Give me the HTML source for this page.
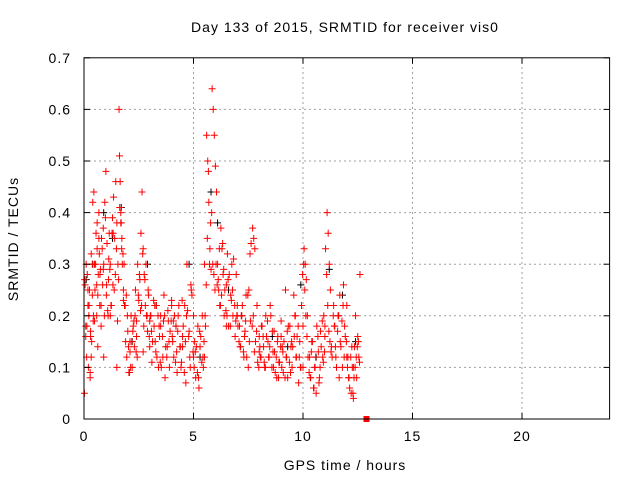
<!DOCTYPE html>
<html><head><meta charset="utf-8"><style>
body{margin:0;background:#fff}
svg text{font-family:"Liberation Sans",sans-serif;font-size:14px;fill:#000;letter-spacing:1px}
</style></head><body>
<svg id="c" width="640" height="480">
<text x="345" y="32" text-anchor="middle">Day 133 of 2015, SRMTID for receiver vis0</text>
<text x="345" y="470" text-anchor="middle">GPS time / hours</text>
<text transform="translate(18,239) rotate(-90)" text-anchor="middle">SRMTID / TECUs</text>
<g id="grid"></g><g id="marks"></g><g id="axes"></g>
</svg>
<script>
const xTicks=[0,5,10,15,20];
const yTicks=[0,0.1,0.2,0.3,0.4,0.5,0.6,0.7];
const redT=[0.02,0.05,0.08,0.1,0.12,0.15,0.18,0.2,0.22,0.25,0.28,0.3,0.33,0.35,0.38,0.4,0.42,0.45,0.48,0.5,0.55,0.58,0.6,0.63,0.65,0.68,0.7,0.72,0.75,0.78,0.8,0.85,0.88,0.9,0.95,1.0,1.02,1.05,1.1,1.12,1.15,1.2,1.25,1.3,1.32,1.35,1.4,1.45,1.5,1.55,1.6,1.62,1.65,1.68,1.7,1.72,1.75,1.8,1.85,1.9,1.95,2.0,2.05,2.1,2.15,2.2,2.25,2.3,2.35,2.4,2.45,2.5,2.55,2.6,2.65,2.7,2.75,2.8,2.85,2.9,2.95,3.0,3.05,3.1,3.2,3.25,3.3,3.4,3.45,3.5,3.6,3.65,3.7,3.8,3.85,3.9,4.0,4.05,4.1,4.2,4.25,4.3,4.4,4.45,4.5,4.6,4.65,4.7,4.8,4.85,4.9,5.0,5.05,5.1,5.2,5.25,5.3,5.4,5.45,5.5,5.55,5.6,5.65,5.7,5.75,5.8,5.85,5.9,5.95,6.0,6.05,6.1,6.15,6.2,6.25,6.3,6.35,6.4,6.5,6.55,6.6,6.7,6.75,6.8,6.9,6.95,7.0,7.1,7.15,7.2,7.3,7.35,7.4,7.5,7.55,7.6,7.7,7.75,7.8,7.9,8.0,8.05,8.1,8.2,8.25,8.3,8.4,8.45,8.5,8.6,8.65,8.7,8.8,8.85,8.9,9.0,9.05,9.1,9.2,9.25,9.3,9.4,9.45,9.5,9.6,9.65,9.7,9.8,9.85,9.9,10.0,10.05,10.1,10.15,10.2,10.3,10.35,10.4,10.5,10.55,10.6,10.7,10.75,10.8,10.9,10.95,11.0,11.1,11.15,11.2,11.25,11.3,11.4,11.45,11.5,11.6,11.65,11.7,11.8,11.85,11.9,12.0,12.05,12.1,12.2,12.25,12.3,12.35,12.4,12.45,12.5,12.55,12.6,0.3,0.6,0.9,1.2,1.5,1.8,2.1,2.4,2.7,3.0,3.5,4.0,4.5,5.0,5.5,6.5,7.0,8.0,9.0,10.0,11.0,12.0,12.3];
const redV=[0.05,0.26,0.18,0.3,0.12,0.28,0.22,0.1,0.2,0.25,0.08,0.17,0.32,0.15,0.24,0.42,0.19,0.44,0.3,0.25,0.36,0.2,0.38,0.14,0.28,0.4,0.32,0.22,0.29,0.18,0.35,0.26,0.37,0.3,0.42,0.48,0.24,0.34,0.2,0.27,0.36,0.3,0.22,0.39,0.26,0.43,0.35,0.46,0.38,0.3,0.6,0.51,0.46,0.4,0.38,0.33,0.3,0.25,0.22,0.15,0.12,0.17,0.09,0.13,0.2,0.1,0.18,0.14,0.25,0.19,0.3,0.23,0.27,0.36,0.44,0.33,0.28,0.22,0.2,0.17,0.24,0.14,0.2,0.11,0.18,0.15,0.22,0.1,0.16,0.2,0.12,0.24,0.08,0.14,0.19,0.1,0.23,0.15,0.12,0.18,0.09,0.2,0.14,0.11,0.16,0.22,0.07,0.3,0.17,0.1,0.25,0.12,0.15,0.08,0.18,0.06,0.14,0.2,0.1,0.3,0.18,0.55,0.5,0.42,0.33,0.29,0.64,0.6,0.55,0.49,0.44,0.3,0.25,0.22,0.37,0.33,0.28,0.2,0.26,0.32,0.18,0.24,0.3,0.2,0.16,0.28,0.22,0.18,0.14,0.2,0.12,0.17,0.24,0.1,0.15,0.19,0.37,0.35,0.33,0.22,0.16,0.12,0.18,0.14,0.1,0.2,0.15,0.12,0.22,0.17,0.1,0.13,0.08,0.16,0.11,0.19,0.14,0.09,0.25,0.12,0.08,0.18,0.14,0.1,0.16,0.2,0.12,0.07,0.15,0.1,0.18,0.33,0.3,0.27,0.2,0.12,0.08,0.15,0.06,0.1,0.05,0.13,0.08,0.17,0.12,0.2,0.16,0.4,0.36,0.3,0.25,0.14,0.22,0.18,0.12,0.2,0.08,0.15,0.1,0.26,0.18,0.22,0.12,0.08,0.05,0.1,0.04,0.14,0.2,0.08,0.16,0.12,0.28,0.16,0.33,0.12,0.2,0.1,0.23,0.15,0.16,0.13,0.19,0.18,0.22,0.14,0.2,0.12,0.18,0.2,0.13,0.16,0.1,0.18,0.12,0.1];
const red2T=[0.03,0.13,0.23,0.33,0.43,0.53,0.63,0.73,0.83,0.93,1.03,1.13,1.23,1.33,1.43,1.53,1.63,1.73,1.83,1.93,2.03,2.13,2.23,2.33,2.43,2.53,2.63,2.73,2.83,2.93,3.03,3.13,3.23,3.33,3.43,3.53,3.63,3.73,3.83,3.93,4.03,4.13,4.23,4.33,4.43,4.53,4.63,4.73,4.83,4.93,5.03,5.13,5.23,5.33,5.43,5.53,5.63,5.73,5.83,5.93,6.03,6.13,6.23,6.33,6.43,6.53,6.63,6.73,6.83,6.93,7.03,7.13,7.23,7.33,7.43,7.53,7.63,7.73,7.83,7.93,8.03,8.13,8.23,8.33,8.43,8.53,8.63,8.73,8.83,8.93,9.03,9.13,9.23,9.33,9.43,9.53,9.63,9.73,9.83,9.93,10.03,10.13,10.23,10.33,10.43,10.53,10.63,10.73,10.83,10.93,11.03,11.13,11.23,11.33,11.43,11.53,11.63,11.73,11.83,11.93,12.03,12.13,12.23,12.33,12.43,12.53];
const red2V=[0.27,0.18,0.22,0.12,0.2,0.3,0.24,0.28,0.33,0.2,0.26,0.31,0.22,0.36,0.28,0.19,0.41,0.35,0.3,0.24,0.14,0.1,0.17,0.2,0.12,0.28,0.22,0.18,0.3,0.25,0.2,0.15,0.22,0.12,0.18,0.1,0.19,0.14,0.21,0.17,0.16,0.2,0.13,0.22,0.1,0.18,0.15,0.21,0.12,0.24,0.1,0.14,0.08,0.16,0.12,0.2,0.35,0.3,0.4,0.28,0.3,0.27,0.22,0.34,0.25,0.2,0.28,0.23,0.31,0.19,0.18,0.14,0.22,0.16,0.12,0.25,0.34,0.2,0.15,0.11,0.14,0.18,0.11,0.16,0.12,0.2,0.13,0.09,0.15,0.11,0.1,0.15,0.12,0.18,0.09,0.14,0.2,0.16,0.12,0.22,0.3,0.2,0.12,0.08,0.15,0.1,0.18,0.07,0.14,0.11,0.33,0.22,0.15,0.12,0.18,0.1,0.2,0.14,0.22,0.16,0.1,0.06,0.14,0.08,0.12,0.15];
const red3T=[0.08,0.18,0.28,0.38,0.48,0.58,0.68,0.78,0.88,0.98,1.08,1.18,1.28,1.38,1.48,1.58,1.68,1.78,1.88,1.98,2.08,2.18,2.28,2.38,2.48,2.58,2.68,2.78,2.88,2.98,3.08,3.18,3.28,3.38,3.48,3.58,3.68,3.78,3.88,3.98,4.08,4.18,4.28,4.38,4.48,4.58,4.68,4.78,4.88,4.98,5.08,5.18,5.28,5.38,5.48,5.58,5.68,5.78,5.88,5.98,6.08,6.18,6.28,6.38,6.48,6.58,6.68,6.78,6.88,6.98,7.08,7.18,7.28,7.38,7.48,7.58,7.68,7.78,7.88,7.98,8.08,8.18,8.28,8.38,8.48,8.58,8.68,8.78,8.88,8.98,9.08,9.18,9.28,9.38,9.48,9.58,9.68,9.78,9.88,9.98,10.08,10.18,10.28,10.38,10.48,10.58,10.68,10.78,10.88,10.98,11.08,11.18,11.28,11.38,11.48,11.58,11.68,11.78,11.88,11.98,12.08,12.18,12.28,12.38,12.48,12.58];
const red3V=[0.16,0.25,0.09,0.3,0.19,0.26,0.35,0.22,0.29,0.39,0.21,0.29,0.36,0.25,0.33,0.27,0.38,0.32,0.22,0.2,0.09,0.15,0.19,0.13,0.24,0.21,0.32,0.27,0.2,0.16,0.17,0.23,0.13,0.2,0.11,0.16,0.2,0.12,0.15,0.19,0.19,0.11,0.17,0.14,0.23,0.09,0.2,0.16,0.26,0.13,0.13,0.09,0.17,0.11,0.15,0.26,0.48,0.38,0.3,0.25,0.26,0.33,0.24,0.29,0.21,0.27,0.18,0.25,0.22,0.2,0.15,0.2,0.13,0.19,0.24,0.32,0.18,0.13,0.17,0.1,0.12,0.16,0.1,0.19,0.14,0.1,0.17,0.12,0.08,0.14,0.13,0.08,0.17,0.11,0.15,0.24,0.12,0.18,0.1,0.28,0.25,0.16,0.09,0.13,0.06,0.12,0.16,0.1,0.19,0.13,0.28,0.17,0.13,0.2,0.14,0.17,0.24,0.19,0.12,0.15,0.08,0.12,0.05,0.1,0.14,0.11];
const blackT=[0.1,0.4,0.9,1.3,1.7,2.2,2.9,3.3,4.2,4.8,5.3,5.8,6.1,6.6,7.2,7.9,8.6,9.3,9.9,10.6,11.2,11.8,12.4];
const blackV=[0.27,0.3,0.4,0.35,0.41,0.15,0.3,0.22,0.18,0.3,0.12,0.44,0.38,0.25,0.2,0.22,0.16,0.14,0.26,0.12,0.29,0.24,0.15];
const x0=84,x1=609.6,y0=419,yTop=57.8;
const sx=t=>x0+t/24*(x1-x0);
const sy=v=>y0-v/0.7*(y0-yTop);
const NS='http://www.w3.org/2000/svg';
function mk(tag,attrs,parent){const e=document.createElementNS(NS,tag);for(const k in attrs)e.setAttribute(k,attrs[k]);parent.appendChild(e);return e;}
const grid=document.getElementById('grid'),marks=document.getElementById('marks'),axes=document.getElementById('axes');
xTicks.forEach(t=>{const x=sx(t);
 if(t>0){const g=mk('line',{x1:x,x2:x,y1:y0,y2:yTop,stroke:'#a0a0a0','stroke-dasharray':'2,3'},grid);
 
 }
 const l=mk('text',{x:x,y:y0+22,'text-anchor':'middle'},axes);l.textContent=t;
 
 
 mk('line',{x1:x,x2:x,y1:y0,y2:y0-6,stroke:'#000'},axes);mk('line',{x1:x,x2:x,y1:yTop,y2:yTop+6,stroke:'#000'},axes);});
yTicks.forEach(v=>{const y=sy(v);
 if(v>0&&v<0.7){const g=mk('line',{x1:x0,x2:x1,y1:y,y2:y,stroke:'#a0a0a0','stroke-dasharray':'2,3'},grid);
 
 }
 const l=mk('text',{x:x0-13,y:y+5,'text-anchor':'end'},axes);l.textContent=v===0?'0':v.toFixed(1);
 
 
 mk('line',{x1:x0,x2:x0+6,y1:y,y2:y,stroke:'#000'},axes);mk('line',{x1:x1,x2:x1-6,y1:y,y2:y,stroke:'#000'},axes);});
const fr=mk('rect',{x:x0,y:yTop,width:x1-x0,height:y0-yTop,fill:'none',stroke:'#000'},axes);


function plus(t,v,col,name){const x=sx(t),y=sy(v);
 const p=mk('path',{d:`M${x-3.5},${y}h7M${x},${y-3.5}v7`,stroke:col,'stroke-width':1},marks);
 
 }
blackT.forEach((t,i)=>plus(t,blackV[i],'#000','black-point'));
redT.forEach((t,i)=>plus(t,redV[i],'#f00','red-point'));
red2T.forEach((t,i)=>plus(t,red2V[i],'#f00','red-point'));
red3T.forEach((t,i)=>plus(t,red3V[i],'#f00','red-point'));
const sq=mk('rect',{x:sx(12.9)-3,y:y0-3,width:6,height:6,fill:'#f00'},marks);


</script>
</body></html>
